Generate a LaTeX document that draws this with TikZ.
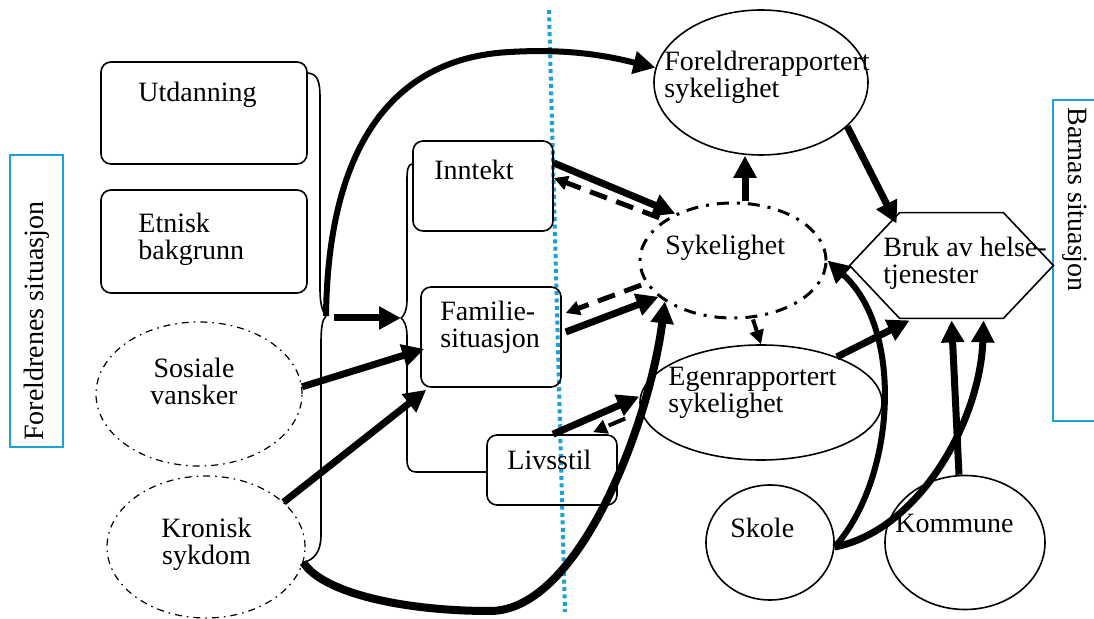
\documentclass[tikz,border=0pt]{standalone}
\usepackage{fontspec}
\setmainfont{Liberation Serif}
\usetikzlibrary{arrows.meta, positioning, shapes.geometric, calc}
\definecolor{frameBlue}{HTML}{1BA1DA}
\tikzset{
  boxnode/.style={draw, rounded corners=5pt, line width=0.8pt, inner sep=0pt},
  ellnode/.style={draw, ellipse, line width=0.8pt, inner sep=0pt},
  dashell/.style={ellnode, line width=0.6pt, dash pattern=on 3.5pt off 2.5pt on 0.8pt off 2.5pt},
  sykell/.style={ellnode, line width=1.5pt, dash pattern=on 6pt off 4pt on 1.5pt off 4pt},
  lbl/.style={font=\fontsize{14}{13.4}\selectfont, inner sep=0pt, align=left},
  bracket/.style={line width=0.8pt},
  flowarr/.style={-{Triangle[length=11pt,width=11pt]}, line width=3.5pt},
  backarr/.style={-{Triangle[length=7pt,width=7pt]}, line width=2.5pt, dash pattern=on 9pt off 5pt},
  sidebox/.style={draw=frameBlue, line width=1pt},
}
\begin{document}
\begin{tikzpicture}[x=0.5pt, y=-0.5pt]
  \useasboundingbox (0,0) rectangle (1094,619);
  % side frames and divider
  \node[sidebox, minimum width=26.5pt, minimum height=146pt, inner sep=0pt] (parentframe) at (36.5,301) {};
  \node[lbl, rotate=90, anchor=west] (parentlbl) at (37,441) {Foreldrenes situasjon};
  \draw[sidebox] (1094,100) -- (1053,100) -- (1053,421) -- (1094,421);
  \node[lbl, rotate=-90, anchor=west] (childlbl) at (1075,107) {Barnas situasjon};
  \draw[frameBlue, line width=2pt, dash pattern=on 2pt off 1.7pt] (549,10) -- (565,612);

  % parent factors
  \node[boxnode, minimum width=103pt, minimum height=51pt] (utd) at (204,113) {};
  \node[boxnode, minimum width=103pt, minimum height=51.5pt] (etn) at (204,241.5) {};
  \node[dashell, minimum width=103pt, minimum height=72pt] (sos) at (199,394) {};
  \node[dashell, minimum width=99pt, minimum height=71pt] (kron) at (206,547) {};
  \node[lbl, anchor=base west] (utdT) at (138,102) {Utdanning};
  \node[lbl, anchor=north west] (etnT) at (138,213) {Etnisk\\bakgrunn};
  \node[lbl, align=center, anchor=north] (sosT) at (194,358) {Sosiale\\vansker};
  \node[lbl, align=center, anchor=north] (kronT) at (206.5,518) {Kronisk\\sykdom};

  % household
  \node[boxnode, minimum width=70pt, minimum height=45pt] (inn) at (483,186) {};
  \node[boxnode, minimum width=70pt, minimum height=50pt] (fam) at (491,337) {};
  \node[boxnode, minimum width=65pt, minimum height=35pt] (liv) at (552,470) {};
  \node[lbl, anchor=base west] (innT) at (434,180) {Inntekt};
  \node[lbl, anchor=north west] (famT) at (440,301) {Familie-\\situasjon};
  \node[lbl, anchor=base west] (livT) at (507,470) {Livsstil};

  % child
  \node[ellnode, minimum width=107pt, minimum height=72.5pt] (forel) at (761,82.5) {};
  \node[sykell, minimum width=93pt, minimum height=57.5pt] (syk) at (733,260.5) {};
  \node[ellnode, minimum width=121pt, minimum height=57.5pt] (egen) at (761,402.5) {};
  \node[ellnode, minimum width=64pt, minimum height=57.5pt] (skole) at (770,542.5) {};
  \node[ellnode, minimum width=80pt, minimum height=67pt] (komm) at (965,542.5) {};
  \node[minimum width=101.5pt, minimum height=52.5pt, inner sep=0pt] (bruk) at (951.5,265.5) {};
  \draw[line width=0.8pt] (bruk.west) -- ([xshift=25pt]bruk.north west) -- ([xshift=-25pt]bruk.north east)
    -- (bruk.east) -- ([xshift=-25pt]bruk.south east) -- ([xshift=25pt]bruk.south west) -- cycle;
  \node[lbl, anchor=north west] (forelT) at (664,51) {Foreldrerapportert\\sykelighet};
  \node[lbl, anchor=base west] (sykT) at (665,255) {Sykelighet};
  \node[lbl, anchor=north west] (egenT) at (668,367) {Egenrapportert\\sykelighet};
  \node[lbl, anchor=north west] (brukT) at (883,237) {Bruk av helse-\\tjenester};
  \node[lbl, anchor=base west] (skoleT) at (730,538) {Skole};
  \node[lbl, anchor=base west] (kommT) at (895,533) {Kommune};

  % brackets
  \coordinate (tipA) at (326,316);
  \coordinate (tipB) at (401,318);
  \draw[bracket] ([yshift=20pt]utd.east) .. controls (318,74) and (320,82) .. (320,98) -- (320,290)
    .. controls (320,305) and (323,312) .. (tipA);
  \draw[bracket] (tipA) .. controls (322,320) and (321,328) .. (321,345) -- (321,535)
    .. controls (321,552) and (314,560) .. (kron.-9);
  \draw[bracket] ([yshift=11pt]inn.west) .. controls (408,164) and (407,170) .. (407,180) -- (407,300)
    .. controls (407,310) and (404,316) .. (tipB);
  \draw[bracket] (tipB) .. controls (404,320) and (407,326) .. (407,336) -- (407,460)
    .. controls (407,468) and (410,472) .. (416,472) -- ([yshift=-1pt]liv.west);

  % arrows
  \draw[flowarr] ([xshift=4pt,yshift=-1pt]tipA) -- (tipB);
  \draw[flowarr, line width=3pt] (tipA) .. controls (328,150) and (390,58) .. (510,52)
    .. controls (575,48) and (615,58) .. (forel.172);
  \draw[flowarr] (sos.4) -- ([xshift=2pt,yshift=-6pt]fam.west);
  \draw[flowarr] (kron.30) -- ([xshift=3pt,yshift=-1pt]fam.south west);
  \draw[flowarr, line width=4pt] (kron.-9) .. controls (322,592) and (400,611) .. (490,611)
    .. controls (580,611) and (650,420) .. (syk.211);
  \draw[flowarr] ([yshift=11.5pt]inn.east) -- (syk.141);
  \draw[backarr] ([xshift=-8pt,yshift=-2pt]syk.141) -- ([yshift=4pt]inn.east);
  \draw[flowarr] ([xshift=2pt,yshift=2.5pt]fam.east) -- (syk.206);
  \draw[backarr] ([xshift=-3pt]syk.196) -- ([xshift=2pt,yshift=12pt]fam.east);
  \draw[flowarr] ([xshift=0.5pt]liv.north) -- ([yshift=3pt]egen.west);
  \draw[backarr, line width=2pt] ([xshift=-7pt,yshift=-8pt]egen.west) -- ([xshift=20.5pt,yshift=1pt]liv.north);
  \draw[flowarr] ($(syk.north)+(12,0)$) -- ($(syk.north |- forel.south)+(12,0)$);
  \draw[backarr, line width=2pt] ([xshift=10pt]syk.south) -- (egen.north);
  \draw[flowarr] (forel.-27) -- ([xshift=23.5pt,yshift=-5.5pt]bruk.north west);
  \draw[flowarr] (egen.31) -- ([xshift=30pt,yshift=-1pt]bruk.south west);
  \draw[flowarr, line width=3pt] (skole.-4) .. controls (895,480) and (905,330) .. (syk.east);
  \draw[flowarr] (skole.-4) .. controls (920,530) and (980,420) .. ([xshift=67pt,yshift=-1pt]bruk.south west);
  \draw[flowarr] ([xshift=-3pt]komm.north) -- ([xshift=51pt,yshift=-1pt]bruk.south west);
\end{tikzpicture}
\end{document}
